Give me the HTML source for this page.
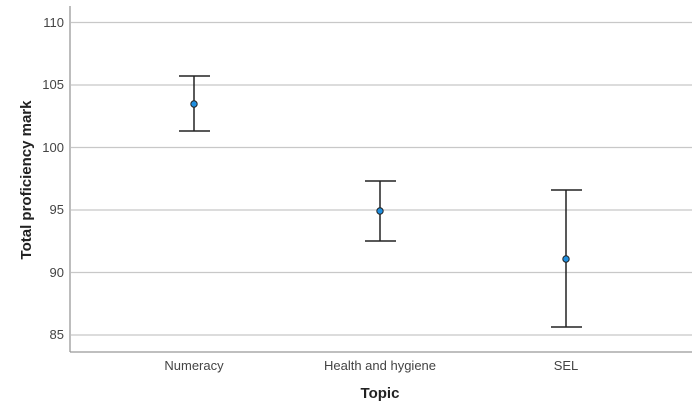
<!DOCTYPE html><html><head><style>body{margin:0;background:#fff}</style></head><body>
<svg width="700" height="414" xmlns="http://www.w3.org/2000/svg" font-family="Liberation Sans, sans-serif">
<rect width="700" height="414" fill="#fff"/>
<g stroke="#c8c8c8" stroke-width="1.3">
<line x1="71" x2="692" y1="22.5" y2="22.5"/><line x1="71" x2="692" y1="85" y2="85"/>
<line x1="71" x2="692" y1="147.5" y2="147.5"/><line x1="71" x2="692" y1="210" y2="210"/>
<line x1="71" x2="692" y1="272.5" y2="272.5"/><line x1="71" x2="692" y1="335" y2="335"/>
</g>
<line x1="70" x2="70" y1="6" y2="352" stroke="#999" stroke-width="1.3"/>
<line x1="70" x2="692" y1="352" y2="352" stroke="#999" stroke-width="1.3"/>
<g font-size="13" fill="#444" text-anchor="end">
<text x="64" y="27">110</text><text x="64" y="89">105</text><text x="64" y="152">100</text>
<text x="64" y="214">95</text><text x="64" y="277">90</text><text x="64" y="339">85</text>
</g>
<g font-size="13" fill="#444" text-anchor="middle">
<text x="194" y="370">Numeracy</text><text x="380" y="370">Health and hygiene</text><text x="566" y="370">SEL</text>
</g>
<text x="380" y="398" font-size="15" font-weight="bold" text-anchor="middle" fill="#222">Topic</text>
<text transform="translate(31,180) rotate(-90)" font-size="15" font-weight="bold" text-anchor="middle" fill="#222">Total proficiency mark</text>
<g stroke="#222" stroke-width="1.5">
<line x1="194" x2="194" y1="76" y2="131"/><line x1="179" x2="210" y1="76" y2="76"/><line x1="179" x2="210" y1="131" y2="131"/>
<line x1="380" x2="380" y1="181" y2="241"/><line x1="365" x2="396" y1="181" y2="181"/><line x1="365" x2="396" y1="241" y2="241"/>
<line x1="566" x2="566" y1="190" y2="327"/><line x1="551" x2="582" y1="190" y2="190"/><line x1="551" x2="582" y1="327" y2="327"/>
</g>
<g fill="#1f8fe0" stroke="#222" stroke-width="1">
<circle cx="194" cy="104" r="3.2"/><circle cx="380" cy="211" r="3.2"/><circle cx="566" cy="259" r="3.2"/>
</g>
</svg></body></html>
